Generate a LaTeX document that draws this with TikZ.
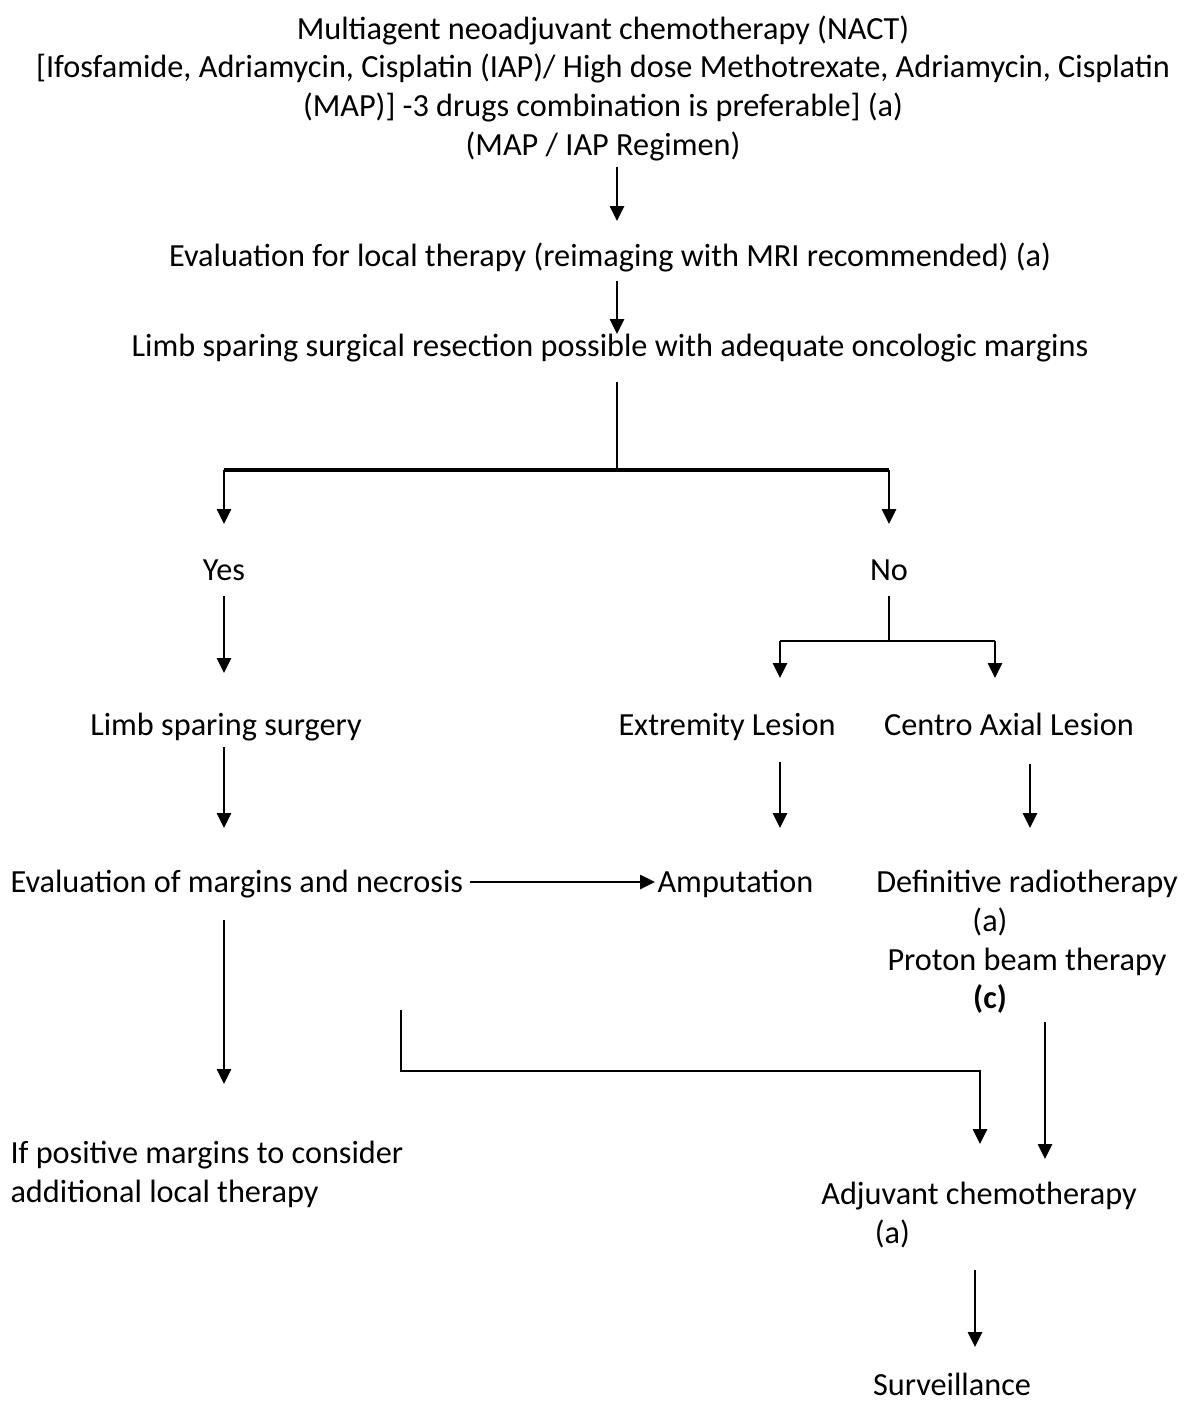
\documentclass[tikz,border=0pt]{standalone}
\usepackage{fontspec}
\setmainfont{Carlito}
\usetikzlibrary{arrows.meta}
\begin{document}
\begin{tikzpicture}[x=0.375pt,y=-0.375pt,
  every node/.style={inner sep=0pt, font=\fontsize{12.1}{14.5}\selectfont},
  arr/.style={line width=0.75pt,-{Triangle[length=5.6pt,width=5.3pt]}},
  ln/.style={line width=0.75pt},
  bar/.style={line width=1.5pt}]
\useasboundingbox (0,0) rectangle (1186,1403);
% texts
\node[align=center, anchor=north] (nact) at (603,15)
  {Multiagent neoadjuvant chemotherapy (NACT)\\
   {[}Ifosfamide, Adriamycin, Cisplatin (IAP)/ High dose Methotrexate, Adriamycin, Cisplatin\\
   (MAP)] -3 drugs combination is preferable] (a)\\
   (MAP / IAP Regimen)};
\node[anchor=base] (evl) at (610,266) {Evaluation for local therapy (reimaging with MRI recommended) (a)};
\node[anchor=base] (lsr) at (610,356) {Limb sparing surgical resection possible with adequate oncologic margins};
\node[anchor=base] (yes) at (224,580) {Yes};
\node[anchor=base] (no) at (889,580) {No};
\node[anchor=base] (lss) at (226,735) {Limb sparing surgery};
\node[anchor=base] (ext) at (727,735) {Extremity Lesion};
\node[anchor=base] (cal) at (1009,735) {Centro Axial Lesion};
\node[anchor=base west] (evm) at (10,892) {Evaluation of margins and necrosis};
\node[anchor=base west] (amp) at (657,892) {Amputation};
\node[align=center, anchor=north] (rt) at (1027,870)
  {Definitive radiotherapy\\(a)\rule{27.75pt}{0pt}\\Proton beam therapy\\\textbf{(c)}\rule{27.75pt}{0pt}};
\node[align=left, anchor=north west] (pos) at (10,1141)
  {If positive margins to consider\\additional local therapy};
\node[align=center, anchor=north] (adj) at (979,1182)
  {Adjuvant chemotherapy\\(a)\rule{65pt}{0pt}};
\node[anchor=base] (surv) at (952,1395) {Surveillance};
% connector ends
\coordinate (a1s) at (617,167); \coordinate (a1e) at (617,221);
\coordinate (a2s) at (617,281); \coordinate (a2e) at (617,334);
\coordinate (b0) at (617,382); \coordinate (b1) at (617,470);
\coordinate (bl) at (224,470); \coordinate (br) at (889,470);
\coordinate (ble) at (224,524); \coordinate (bre) at (889,524);
\coordinate (ys) at (224,596); \coordinate (ye) at (224,673);
\coordinate (ns) at (889,596); \coordinate (nm) at (889,641);
\coordinate (nl) at (780,641); \coordinate (nr) at (995,641);
\coordinate (nle) at (780,678); \coordinate (nre) at (995,678);
\coordinate (ls1) at (224,747); \coordinate (ls2) at (224,828);
\coordinate (ex1) at (780,762); \coordinate (ex2) at (780,828);
\coordinate (ca1) at (1030,764); \coordinate (ca2) at (1030,828);
\coordinate (ev1) at (470,882); \coordinate (ev2) at (655,882);
\coordinate (ed1) at (224,920); \coordinate (ed2) at (224,1084);
\coordinate (c1) at (401,1010); \coordinate (c2) at (401,1071);
\coordinate (c3) at (980,1071); \coordinate (c4) at (980,1144);
\coordinate (r1) at (1045,1022); \coordinate (r2) at (1045,1159);
\coordinate (s1) at (975,1270); \coordinate (s2) at (975,1347);
% connectors
\draw[arr] (a1s) -- (a1e);
\draw[arr] (a2s) -- (a2e);
\draw[ln] (b0) -- (b1);
\draw[bar] (bl) -- (br);
\draw[arr] (bl) -- (ble);
\draw[arr] (br) -- (bre);
\draw[arr] (ys) -- (ye);
\draw[ln] (ns) -- (nm);
\draw[ln] (nl) -- (nr);
\draw[arr] (nl) -- (nle);
\draw[arr] (nr) -- (nre);
\draw[arr] (ls1) -- (ls2);
\draw[arr] (ex1) -- (ex2);
\draw[arr] (ca1) -- (ca2);
\draw[arr] (ev1) -- (ev2);
\draw[arr] (ed1) -- (ed2);
\draw[arr] (c1) -- (c2) -- (c3) -- (c4);
\draw[arr] (r1) -- (r2);
\draw[arr] (s1) -- (s2);
\end{tikzpicture}
\end{document}
